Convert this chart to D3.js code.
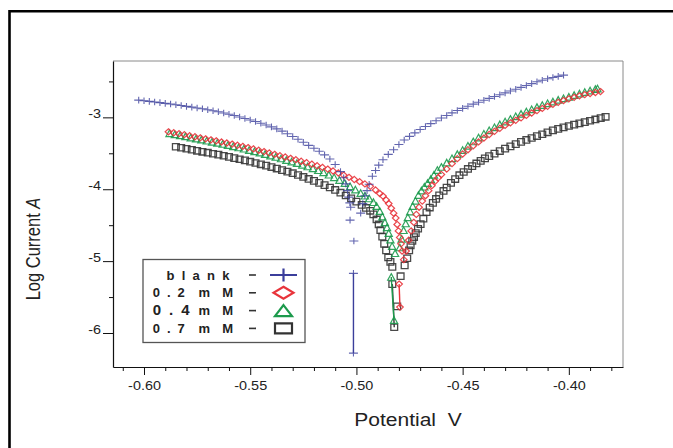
<!DOCTYPE html>
<html>
<head>
<meta charset="utf-8">
<script src="https://cdn.jsdelivr.net/npm/d3@7"></script>
<style>
  body { margin: 0; background: #fff; }
  svg text { font-family: "Liberation Sans", Arial, sans-serif; fill: #222; }
</style>
</head>
<body>
<svg id="chart" width="673" height="448"></svg>
<script>
// potential (V) / log current pairs
var blankCath = [[-0.6025,-2.760],[-0.6000,-2.768],[-0.5975,-2.777],[-0.5950,-2.786],[-0.5925,-2.795],[-0.5900,-2.805],[-0.5875,-2.815],[-0.5850,-2.825],[-0.5825,-2.836],[-0.5800,-2.847],[-0.5775,-2.858],[-0.5750,-2.869],[-0.5725,-2.881],[-0.5700,-2.894],[-0.5675,-2.908],[-0.5650,-2.923],[-0.5625,-2.939],[-0.5600,-2.956],[-0.5575,-2.975],[-0.5550,-2.995],[-0.5525,-3.015],[-0.5500,-3.036],[-0.5475,-3.058],[-0.5450,-3.082],[-0.5425,-3.107],[-0.5400,-3.133],[-0.5375,-3.160],[-0.5350,-3.192],[-0.5325,-3.228],[-0.5300,-3.266],[-0.5275,-3.305],[-0.5250,-3.347],[-0.5225,-3.390],[-0.5200,-3.430],[-0.5175,-3.472],[-0.5150,-3.522],[-0.5125,-3.580],[-0.5100,-3.655],[-0.5075,-3.755],[-0.5060,-3.840],[-0.5050,-3.925],[-0.5042,-4.020],[-0.5036,-4.110],[-0.5031,-4.190],[-0.5027,-4.250],[-0.5030,-4.430],[-0.5012,-4.720]];
var blankDrop = [[-0.5014,-5.17],[-0.5014,-6.28]];
var blankAnod = [[-0.4980,-4.333],[-0.4970,-4.200],[-0.4960,-4.090],[-0.4950,-4.020],[-0.4940,-3.930],[-0.4925,-3.820],[-0.4910,-3.740],[-0.4895,-3.665],[-0.4875,-3.590],[-0.4850,-3.515],[-0.4825,-3.450],[-0.4800,-3.378],[-0.4775,-3.314],[-0.4750,-3.264],[-0.4725,-3.216],[-0.4700,-3.168],[-0.4675,-3.127],[-0.4650,-3.087],[-0.4625,-3.048],[-0.4600,-3.010],[-0.4575,-2.974],[-0.4550,-2.938],[-0.4525,-2.904],[-0.4500,-2.875],[-0.4475,-2.845],[-0.4450,-2.816],[-0.4425,-2.789],[-0.4400,-2.762],[-0.4375,-2.736],[-0.4350,-2.710],[-0.4325,-2.685],[-0.4300,-2.660],[-0.4275,-2.634],[-0.4250,-2.609],[-0.4225,-2.583],[-0.4200,-2.557],[-0.4175,-2.531],[-0.4150,-2.505],[-0.4125,-2.483],[-0.4100,-2.462],[-0.4075,-2.446],[-0.4050,-2.430],[-0.4025,-2.412]];

var redCath = [[-0.5885,-3.201],[-0.5860,-3.214],[-0.5835,-3.227],[-0.5810,-3.241],[-0.5785,-3.256],[-0.5760,-3.270],[-0.5735,-3.285],[-0.5710,-3.299],[-0.5685,-3.313],[-0.5660,-3.327],[-0.5635,-3.342],[-0.5610,-3.357],[-0.5585,-3.372],[-0.5560,-3.388],[-0.5535,-3.404],[-0.5510,-3.421],[-0.5485,-3.439],[-0.5460,-3.457],[-0.5435,-3.476],[-0.5410,-3.495],[-0.5385,-3.514],[-0.5360,-3.533],[-0.5335,-3.551],[-0.5310,-3.570],[-0.5285,-3.589],[-0.5260,-3.610],[-0.5235,-3.630],[-0.5210,-3.651],[-0.5185,-3.673],[-0.5160,-3.696],[-0.5135,-3.720],[-0.5110,-3.746],[-0.5085,-3.774],[-0.5060,-3.803],[-0.5035,-3.834],[-0.5010,-3.865],[-0.4985,-3.895],[-0.4960,-3.926],[-0.4935,-3.960],[-0.4910,-4.010],[-0.4890,-4.060],[-0.4875,-4.095],[-0.4860,-4.150],[-0.4848,-4.200],[-0.4836,-4.265],[-0.4825,-4.333],[-0.4815,-4.400],[-0.4808,-4.490],[-0.4802,-4.580],[-0.4796,-4.670],[-0.4790,-4.760],[-0.4785,-4.860],[-0.4777,-4.980]];
var redDrop = [[-0.4799,-5.32],[-0.4795,-5.64]];
var redAnod = [[-0.4766,-4.860],[-0.4754,-4.710],[-0.4742,-4.580],[-0.4730,-4.460],[-0.4718,-4.350],[-0.4705,-4.250],[-0.4690,-4.165],[-0.4675,-4.090],[-0.4660,-4.020],[-0.4645,-3.950],[-0.4630,-3.890],[-0.4615,-3.840],[-0.4600,-3.795],[-0.4575,-3.718],[-0.4550,-3.643],[-0.4525,-3.575],[-0.4500,-3.510],[-0.4475,-3.450],[-0.4450,-3.395],[-0.4425,-3.342],[-0.4400,-3.288],[-0.4375,-3.238],[-0.4350,-3.195],[-0.4325,-3.153],[-0.4300,-3.112],[-0.4275,-3.076],[-0.4250,-3.042],[-0.4225,-3.007],[-0.4200,-2.973],[-0.4175,-2.940],[-0.4150,-2.906],[-0.4125,-2.876],[-0.4100,-2.847],[-0.4075,-2.818],[-0.4050,-2.791],[-0.4025,-2.766],[-0.4000,-2.742],[-0.3975,-2.721],[-0.3950,-2.701],[-0.3925,-2.683],[-0.3900,-2.668],[-0.3875,-2.654],[-0.3851,-2.641]];

var greenCath = [[-0.5880,-3.223],[-0.5855,-3.236],[-0.5830,-3.250],[-0.5805,-3.265],[-0.5780,-3.281],[-0.5755,-3.295],[-0.5730,-3.310],[-0.5705,-3.325],[-0.5680,-3.340],[-0.5655,-3.355],[-0.5630,-3.370],[-0.5605,-3.386],[-0.5580,-3.402],[-0.5555,-3.419],[-0.5530,-3.436],[-0.5505,-3.454],[-0.5480,-3.472],[-0.5455,-3.491],[-0.5430,-3.511],[-0.5405,-3.531],[-0.5380,-3.551],[-0.5355,-3.572],[-0.5330,-3.593],[-0.5305,-3.614],[-0.5280,-3.636],[-0.5255,-3.659],[-0.5230,-3.683],[-0.5205,-3.708],[-0.5180,-3.735],[-0.5155,-3.765],[-0.5130,-3.798],[-0.5105,-3.833],[-0.5080,-3.872],[-0.5055,-3.914],[-0.5030,-3.960],[-0.5005,-4.005],[-0.4980,-4.054],[-0.4960,-4.090],[-0.4940,-4.128],[-0.4920,-4.180],[-0.4905,-4.235],[-0.4890,-4.305],[-0.4878,-4.380],[-0.4866,-4.460],[-0.4856,-4.530],[-0.4848,-4.610],[-0.4840,-4.700],[-0.4832,-4.790],[-0.4818,-4.890]];
var greenDrop = [[-0.4836,-5.22],[-0.4823,-5.82]];
var greenAnod = [[-0.4796,-4.810],[-0.4787,-4.690],[-0.4778,-4.570],[-0.4768,-4.476],[-0.4758,-4.390],[-0.4747,-4.310],[-0.4735,-4.235],[-0.4722,-4.160],[-0.4708,-4.080],[-0.4694,-4.020],[-0.4680,-3.965],[-0.4665,-3.915],[-0.4650,-3.860],[-0.4635,-3.800],[-0.4619,-3.734],[-0.4600,-3.690],[-0.4575,-3.630],[-0.4550,-3.569],[-0.4525,-3.512],[-0.4500,-3.455],[-0.4475,-3.395],[-0.4450,-3.335],[-0.4425,-3.280],[-0.4400,-3.228],[-0.4375,-3.180],[-0.4350,-3.138],[-0.4325,-3.098],[-0.4300,-3.058],[-0.4275,-3.022],[-0.4250,-2.986],[-0.4225,-2.952],[-0.4200,-2.920],[-0.4175,-2.889],[-0.4150,-2.858],[-0.4125,-2.830],[-0.4100,-2.804],[-0.4075,-2.780],[-0.4050,-2.757],[-0.4025,-2.735],[-0.4000,-2.713],[-0.3975,-2.691],[-0.3950,-2.670],[-0.3925,-2.649],[-0.3900,-2.628],[-0.3875,-2.608],[-0.3865,-2.599]];

var blackCath = [[-0.5850,-3.409],[-0.5825,-3.423],[-0.5800,-3.437],[-0.5775,-3.451],[-0.5750,-3.465],[-0.5725,-3.479],[-0.5700,-3.492],[-0.5675,-3.506],[-0.5650,-3.519],[-0.5625,-3.534],[-0.5600,-3.550],[-0.5575,-3.567],[-0.5550,-3.583],[-0.5525,-3.599],[-0.5500,-3.617],[-0.5475,-3.635],[-0.5450,-3.653],[-0.5425,-3.671],[-0.5400,-3.691],[-0.5375,-3.712],[-0.5350,-3.734],[-0.5325,-3.755],[-0.5300,-3.777],[-0.5275,-3.802],[-0.5250,-3.829],[-0.5225,-3.857],[-0.5200,-3.884],[-0.5175,-3.912],[-0.5150,-3.943],[-0.5125,-3.976],[-0.5100,-4.010],[-0.5075,-4.048],[-0.5050,-4.087],[-0.5025,-4.127],[-0.5000,-4.172],[-0.4975,-4.218],[-0.4955,-4.260],[-0.4935,-4.300],[-0.4920,-4.350],[-0.4905,-4.420],[-0.4895,-4.490],[-0.4887,-4.570],[-0.4878,-4.660],[-0.4869,-4.760],[-0.4860,-4.850],[-0.4850,-4.950],[-0.4840,-5.010],[-0.4831,-5.080]];
var blackDrop = [[-0.4831,-5.32],[-0.4822,-5.92]];
var blackAnod = [[-0.4808,-5.630],[-0.4792,-5.210],[-0.4773,-5.060],[-0.4761,-4.960],[-0.4752,-4.850],[-0.4745,-4.780],[-0.4737,-4.720],[-0.4729,-4.665],[-0.4721,-4.610],[-0.4710,-4.550],[-0.4698,-4.486],[-0.4685,-4.410],[-0.4670,-4.320],[-0.4655,-4.255],[-0.4640,-4.190],[-0.4625,-4.135],[-0.4610,-4.085],[-0.4590,-4.024],[-0.4575,-3.976],[-0.4555,-3.911],[-0.4535,-3.858],[-0.4515,-3.805],[-0.4495,-3.760],[-0.4475,-3.718],[-0.4455,-3.679],[-0.4435,-3.641],[-0.4415,-3.606],[-0.4395,-3.570],[-0.4375,-3.540],[-0.4350,-3.505],[-0.4325,-3.469],[-0.4300,-3.435],[-0.4275,-3.404],[-0.4250,-3.373],[-0.4225,-3.341],[-0.4200,-3.314],[-0.4175,-3.287],[-0.4150,-3.260],[-0.4125,-3.235],[-0.4100,-3.208],[-0.4075,-3.181],[-0.4050,-3.160],[-0.4025,-3.140],[-0.4000,-3.120],[-0.3975,-3.101],[-0.3950,-3.084],[-0.3925,-3.066],[-0.3900,-3.047],[-0.3875,-3.029],[-0.3850,-3.010],[-0.3827,-2.992]];

var legendNames = ["blank", "0.2 mM", "0.4 mM", "0.7 mM"];
var xMajorTicks = [-0.60, -0.55, -0.50, -0.45, -0.40];
var xMinorTicks = [-0.61, -0.59, -0.58, -0.57, -0.56, -0.54, -0.53, -0.52, -0.51, -0.49, -0.48, -0.47, -0.46, -0.44, -0.43, -0.42, -0.41, -0.39, -0.38];
var yMajorTicks = [-3, -4, -5, -6];
var yMinorTicks = [-2.5, -3.5, -4.5, -5.5];

var svg = d3.select("#chart"),
    margin = {top: 61, right: 50, bottom: 81, left: 113},
    width = +svg.attr("width") - margin.left - margin.right,
    height = +svg.attr("height") - margin.top - margin.bottom;

var x = d3.scaleLinear().domain([-0.6146, -0.3745]).range([0, width]);
var y = d3.scaleLinear().domain([-6.473, -2.216]).range([height, 0]);

// marker shapes (half width w, half height h)
function shape(type, w, h) {
  if (type == "plus") return "M" + (-w) + ",0H" + w + "M0," + (-h) + "V" + h;
  if (type == "diamond") return "M0," + (-h) + "L" + w + ",0L0," + h + "L" + (-w) + ",0Z";
  if (type == "triangle") return "M0," + (-h) + "L" + w + "," + h + "L" + (-w) + "," + h + "Z";
  return "M" + (-w) + "," + (-h) + "H" + w + "V" + h + "H" + (-w) + "Z";
}

function stretch(sel, k) {
  sel.each(function() {
    var w = this.getComputedTextLength();
    d3.select(this).attr("textLength", w * k).attr("lengthAdjust", "spacingAndGlyphs");
  });
}

// outer frame
svg.append("path")
    .attr("d", "M9.5,448V11.2H673")
    .attr("fill", "none")
    .attr("stroke", "#000")
    .attr("stroke-width", 2.6);

var g = svg.append("g")
    .attr("transform", "translate(" + margin.left + "," + margin.top + ")");

// top and right edges of the plot box
g.append("path")
    .attr("d", "M0,0H" + width + "V" + height)
    .attr("fill", "none")
    .attr("stroke", "#8a8a8a")
    .attr("stroke-width", 1);

// series drawn bottom-most first
var series = [
  {name: "0.7 mM", color: "#353535", sym: "square", w: 3.4, h: 3.2, sw: 1.3, pts: blackCath.concat(blackAnod), drop: blackDrop},
  {name: "0.4 mM", color: "#1c9a4c", sym: "triangle", w: 3.6, h: 3.3, sw: 1.2, pts: greenCath.concat(greenAnod), drop: greenDrop},
  {name: "0.2 mM", color: "#e8343b", sym: "diamond", w: 3.3, h: 3.1, sw: 1.2, pts: redCath.concat(redAnod), drop: redDrop},
  {name: "blank", color: "#3b3e9b", sym: "plus", w: 4.5, h: 3.3, sw: 1.1, pts: blankCath.concat(blankAnod), drop: blankDrop}
];

var line = d3.line()
    .x(function(d) { return x(d[0]); })
    .y(function(d) { return y(d[1]); });

series.forEach(function(s) {
  var sg = g.append("g").attr("class", "series");
  sg.append("path")
      .datum(s.drop)
      .attr("d", line)
      .attr("fill", "none")
      .attr("stroke", s.color)
      .attr("stroke-width", 1.4);
  sg.selectAll("path.m")
    .data(s.pts.concat(s.drop))
    .join("path")
      .attr("class", "m")
      .attr("transform", function(d) { return "translate(" + x(d[0]) + "," + y(d[1]) + ")"; })
      .attr("d", shape(s.sym, s.w, s.h))
      .attr("fill", "none")
      .attr("stroke", s.color)
      .attr("stroke-opacity", s.sym == "plus" ? 0.8 : 0.9)
      .attr("stroke-width", s.sw);
});

// axes
var xAxis = g.append("g")
    .attr("class", "axis axis--x")
    .attr("transform", "translate(0," + height + ")")
    .call(d3.axisBottom(x).tickValues(xMajorTicks).tickSize(8).tickSizeOuter(0).tickPadding(6)
      .tickFormat(function(d) { return d.toFixed(2); }));
g.append("g")
    .attr("transform", "translate(0," + height + ")")
    .call(d3.axisBottom(x).tickValues(xMinorTicks).tickSize(4).tickSizeOuter(0).tickFormat(""))
    .select(".domain").remove();

var yAxis = g.append("g")
    .attr("class", "axis axis--y")
    .call(d3.axisLeft(y).tickValues(yMajorTicks).tickSize(10).tickSizeOuter(0).tickPadding(2)
      .tickFormat(function(d) { return String(d); }));
g.append("g")
    .call(d3.axisLeft(y).tickValues(yMinorTicks).tickSize(4).tickSizeOuter(0).tickFormat(""))
    .select(".domain").remove();

g.selectAll(".axis .domain").attr("stroke", "#111").attr("stroke-width", 1.2);
g.selectAll(".tick line").attr("stroke", "#111");
g.selectAll(".axis text")
    .attr("font-family", null)
    .style("font-size", "12px")
    .style("fill", "#222");
yAxis.selectAll("text").attr("dy", "0.05em");
stretch(g.selectAll(".axis text"), 1.2);

// axis titles
var xt = svg.append("text")
    .attr("x", 408)
    .attr("y", 426)
    .attr("text-anchor", "middle")
    .style("font-size", "17.5px")
    .style("white-space", "pre")
    .text("Potential  V");
stretch(xt, 1.2);

var yt = svg.append("text")
    .attr("transform", "translate(39.5,249) rotate(-90) scale(1,1.2)")
    .attr("text-anchor", "middle")
    .style("font-size", "16.5px");
yt.append("tspan").text("Log Current ");
yt.append("tspan").style("font-style", "italic").text("A");

// legend
var legend = svg.append("g").attr("class", "legend");
legend.append("rect")
    .attr("x", 143).attr("y", 259.5)
    .attr("width", 162).attr("height", 83)
    .attr("fill", "#fff")
    .attr("stroke", "#555")
    .attr("stroke-width", 1.3);

var legendSyms = [
  {sym: "plus", color: "#3b3e9b", w: 13.5, h: 6.5},
  {sym: "diamond", color: "#e8343b", w: 10, h: 6},
  {sym: "triangle", color: "#1c9a4c", w: 8.5, h: 5.5},
  {sym: "square", color: "#333", w: 8.5, h: 5}
];

legendNames.forEach(function(name, i) {
  var cy = 275 + i * 17.8;
  var parts = name.split(" ");
  if (parts.length == 1) {
    legend.append("text")
        .attr("x", 166.5).attr("y", cy + 4.6)
        .attr("textLength", 63).attr("lengthAdjust", "spacing")
        .style("font-size", "13px").style("font-weight", "bold")
        .text(parts[0]);
  } else {
    legend.append("text")
        .attr("x", 152.7).attr("y", cy + 4.6)
        .attr("textLength", i == 2 ? 37 : 32).attr("lengthAdjust", "spacing")
        .style("font-size", i == 2 ? "15px" : "13px").style("font-weight", "bold")
        .text(parts[0]);
    legend.append("text")
        .attr("x", 198.5).attr("y", cy + 4.6)
        .attr("textLength", 34.5).attr("lengthAdjust", "spacing")
        .style("font-size", "13px").style("font-weight", "bold")
        .text(parts[1]);
  }
  legend.append("path")
      .attr("d", "M249," + cy + "H256")
      .attr("stroke", "#333")
      .attr("stroke-width", 1.6);
  var ls = legendSyms[i];
  legend.append("path")
      .attr("transform", "translate(283.5," + cy + ")")
      .attr("d", shape(ls.sym, ls.w, ls.h))
      .attr("fill", "none")
      .attr("stroke", ls.color)
      .attr("stroke-width", 2.2);
});
</script>
</body>
</html>
